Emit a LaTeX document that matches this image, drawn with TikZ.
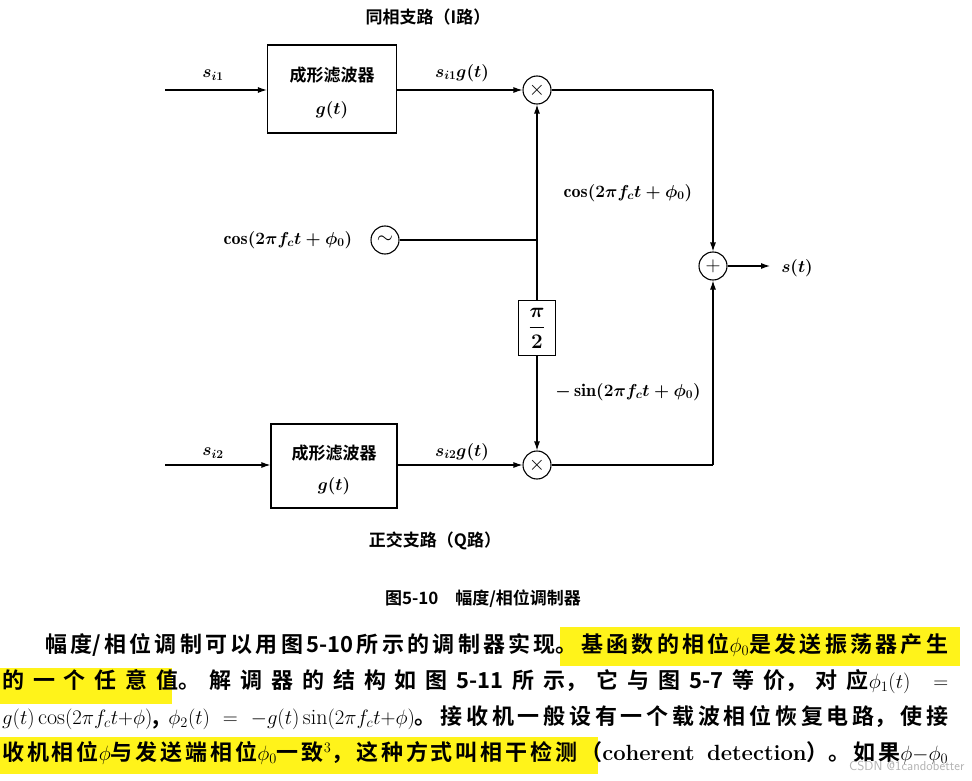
\documentclass[tikz,border=0pt]{standalone}
\usepackage{amsmath}
\usepackage{fontspec}
\newfontfamily\cjk{Noto Sans CJK SC}[BoldFont={Noto Sans CJK SC Bold}]
\usetikzlibrary{arrows.meta}
\begin{document}
\begin{tikzpicture}[x=1pt,y=-1pt,
  lbl/.style={font=\fontsize{18}{20}\selectfont},
  cj/.style={font=\fontsize{17}{20}\selectfont\cjk\bfseries},
  box/.style={draw,line width=1.2pt},
  op/.style={draw,circle,line width=1.1pt,minimum size=28pt,inner sep=0pt,font=\fontsize{20}{20}\selectfont},
  ln/.style={line width=1.1pt},
  ar/.style={ln,-{Latex[length=9pt,width=6pt]}},
  para/.style={anchor=north west,inner sep=0pt,text width=946pt,align=justify,font=\fontsize{22}{36}\selectfont\cjk\bfseries}]
\useasboundingbox (0,0) rectangle (972,781);
\fill[white] (0,0) rectangle (972,781);
% highlights
\fill[yellow!90!white] (560,627) rectangle (960,666);
\fill[yellow!90!white] (0,668) rectangle (172,704);
\fill[yellow!90!white] (0,737) rectangle (598,774);
\node[cj] (ti) at (428,17) {同相支路（I路）};
\node[cj] (tq) at (435,541) {正交支路（Q路）};
\node[cj] (cap) at (483,599) {图5-10\quad 幅度/相位调制器};
% boxes
\node[box,minimum width=129pt,minimum height=88pt] (b1) at (332,89) {};
\node[cj] at (332,75) {成形滤波器};
\node[lbl] at (332,110) {$\boldsymbol{g(t)}$};
\node[box,minimum width=126pt,minimum height=84pt] (b2) at (334,466) {};
\node[cj] at (334,453) {成形滤波器};
\node[lbl] at (334,486) {$\boldsymbol{g(t)}$};
\node[op] (m1) at (537,90) {$\times$};
\node[op] (m2) at (537,465) {$\times$};
\node[op] (ad) at (713,266) {$+$};
\node[op] (osc) at (385,240) {$\sim$};
\node[box,minimum width=37pt,minimum height=55pt] (pi) at (537,328) {};
\node[font=\fontsize{22}{22}\selectfont] at (537,328) {$\boldsymbol{\dfrac{\pi}{2}}$};
\coordinate (in1) at (165,90);
\coordinate (in2) at (165,465);
\coordinate (j) at (537,240);
\coordinate (c1) at (713,90);
\coordinate (c2) at (713,465);
\coordinate (out) at (770,266);
\draw[ar] (in1) -- (b1.west |- in1);
\draw[ar] (in2) -- (b2.west |- in2);
\draw[ar] (b1.east |- m1) -- (m1);
\draw[ar] (b2.east |- m2) -- (m2);
\draw[ln] (osc) -- (j);
\draw[ar] (j) -- (m1);
\draw[ln] (j) -- (pi);
\draw[ar] (pi) -- (m2);
\draw[ln] (m1) -- (c1);
\draw[ar] (c1) -- (ad);
\draw[ln] (m2) -- (c2);
\draw[ar] (c2) -- (ad);
\draw[ar] (ad) -- (out);
\node[lbl] at (213,75) {$\boldsymbol{s_{i1}}$};
\node[lbl] at (213,453) {$\boldsymbol{s_{i2}}$};
\node[lbl] at (462,73) {$\boldsymbol{s_{i1}g(t)}$};
\node[lbl] at (462,452) {$\boldsymbol{s_{i2}g(t)}$};
\node[lbl] at (628,193) {$\boldsymbol{\cos(2\pi f_c t+\phi_0)}$};
\node[lbl] at (628,392) {$\boldsymbol{-\sin(2\pi f_c t+\phi_0)}$};
\node[lbl] at (288,240) {$\boldsymbol{\cos(2\pi f_c t+\phi_0)}$};
\node[lbl] at (797,268) {$\boldsymbol{s(t)}$};
% paragraph
\node[para] (p) at (2,633) {\XeTeXlinebreaklocale "zh"\XeTeXlinebreakskip=0pt plus 3pt\parindent=43pt\parfillskip=0pt\indent
幅度/相位调制可以用图5-10所示的调制器实现。基函数的相位$\phi_0$是发送振荡器产生\linebreak
的一个任意值。解调器的结构如图5-11所示，它与图5-7等价，对应$\phi_1(t)=$\linebreak
$g(t)\cos(2\pi f_ct{+}\phi)$, $\phi_2(t)=-g(t)\sin(2\pi f_ct{+}\phi)$。接收机一般设有一个载波相位恢复电路，使接\linebreak
收机相位$\phi$与发送端相位$\phi_0$一致$^3$，这种方式叫相干检测（\textrm{coherent detection}）。如果$\phi{-}\phi_0$\par};
\node[anchor=east,text=gray!60,font=\fontsize{13}{15}\selectfont\sffamily] (wm) at (968,766) {CSDN @1candobetter};
\end{tikzpicture}
\end{document}
